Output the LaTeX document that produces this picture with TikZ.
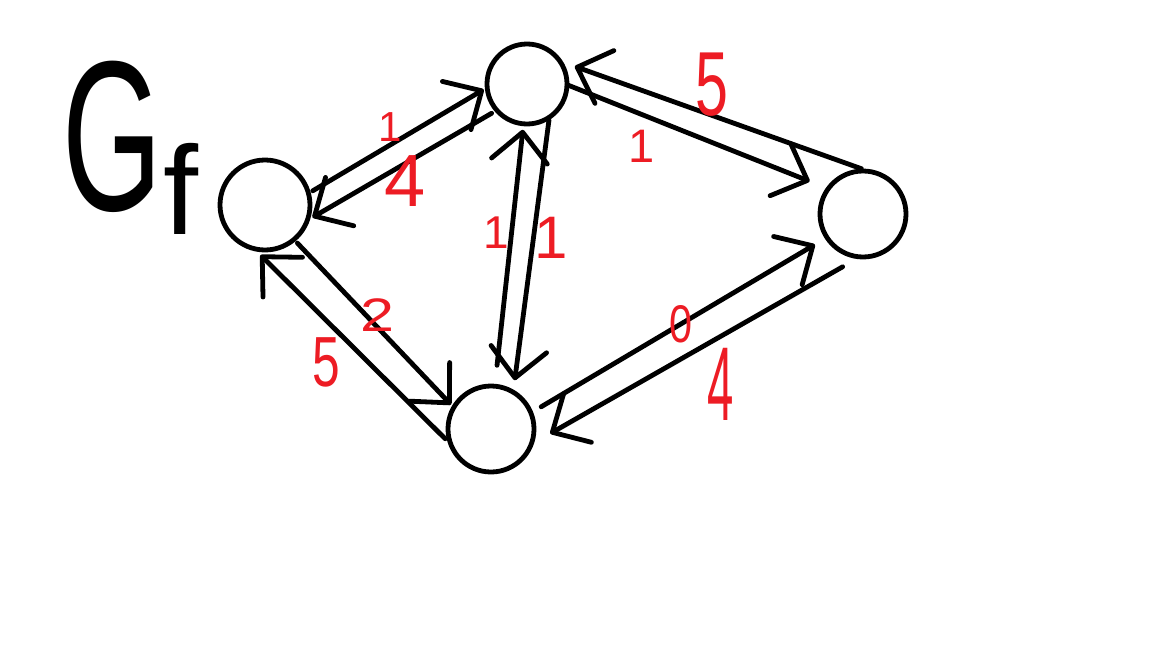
\documentclass[tikz,border=0pt]{standalone}
\usepackage{fontspec}
\setmainfont{Liberation Sans}
\usetikzlibrary{arrows.meta}
\definecolor{paintred}{RGB}{237,28,36}
\newcommand{\wfont}[2]{\fontsize{#1}{#1}\selectfont\scalebox{#2}[1]}
\begin{document}
\begin{tikzpicture}[x=1pt,y=-1pt,
  vertex/.style={circle,draw,line width=4.8pt,inner sep=0pt,outer sep=0pt},
  edge/.style={line width=4.8pt,line cap=round,-{Straight Barb[length=29pt,width=56pt,round]}},
  wl/.style={text=paintred,inner sep=0pt}
]
\fill[white] (0,0) rectangle (1152,648);
\useasboundingbox (0,0) rectangle (1152,648);

% title
\node[inner sep=0pt] (G) at (112,137) {\fontsize{214}{214}\selectfont\scalebox{0.6}[1]{G}};
\node[inner sep=0pt] (f) at (181,189) {\fontsize{126}{126}\selectfont f};

% vertices
\node[vertex,minimum size=90pt] (L) at (265,205) {};
\node[vertex,minimum size=80pt] (T) at (527,84) {};
\node[vertex,minimum size=86pt] (R) at (863,214) {};
\node[vertex,minimum size=86pt] (B) at (491,429) {};

% edges
\draw[edge,shorten <=5pt,shorten >=4pt] (L.15) -- (T.185);
\draw[edge,shorten <=6pt,shorten >=6pt] (T.221) -- (L.340);
\draw[edge,shorten <=0pt,shorten >=20pt] (T.359) -- (R.144);
\draw[edge,shorten <=8pt,shorten >=16pt] (R.82) -- (T.35);
\draw[edge,shorten <=5pt,shorten >=4pt] (L.310) -- (B.150);
\draw[edge,shorten <=8pt,shorten >=9pt] (B.201) -- (L.256);
\draw[edge,shorten <=21pt,shorten >=6pt] (B.85) -- (T.265);
\draw[edge,shorten <=3pt,shorten >=12pt] (T.304) -- (B.59);
\draw[edge,shorten <=12pt,shorten >=14pt] (B.22) -- (R.213);
\draw[edge,shorten <=20pt,shorten >=22pt] (R.266) -- (B.339);

% weights
\node[wl] (w1) at (390,127) {\wfont{42}{1}{1}};
\node[wl] (w2) at (405,181) {\wfont{74}{1}{4}};
\node[wl] (w3) at (712,85) {\wfont{91}{0.65}{5}};
\node[wl] (w4) at (642,146) {\wfont{47}{1}{1}};
\node[wl] (w5) at (496,233) {\wfont{46}{1}{1}};
\node[wl] (w6) at (551,238) {\wfont{60}{1}{1}};
\node[wl] (w7) at (377,315) {\wfont{47}{1.3}{2}};
\node[wl] (w8) at (326,362) {\wfont{71}{0.7}{5}};
\node[wl] (w9) at (681,324) {\wfont{53}{0.78}{0}};
\node[wl] (w10) at (721,384) {\wfont{105}{0.45}{4}};
\end{tikzpicture}
\end{document}
